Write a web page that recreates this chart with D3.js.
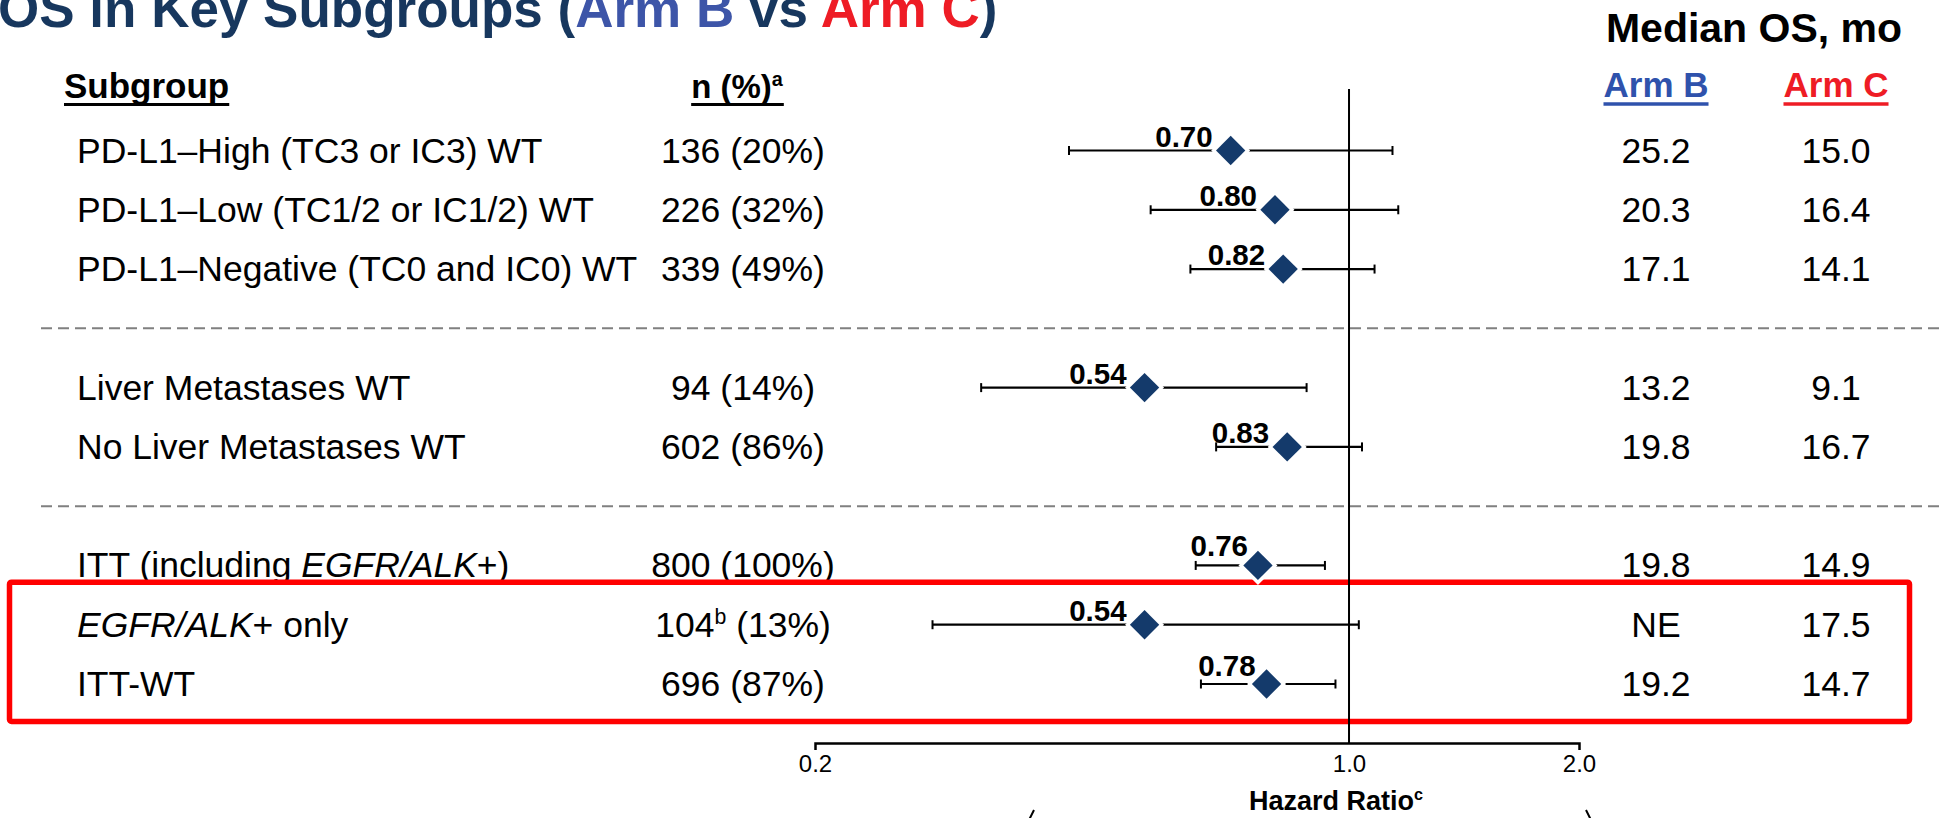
<!DOCTYPE html>
<html>
<head>
<meta charset="utf-8">
<script src="https://cdn.jsdelivr.net/npm/d3@7"></script>
<style>
  html, body { margin: 0; padding: 0; background: #fff; overflow: hidden; }
  svg text { font-family: "Liberation Sans", Arial, Helvetica, sans-serif; }
</style>
</head>
<body>
<svg id="chart" width="1939" height="818"></svg>
<script>
// ---- Data -------------------------------------------------------------
const subgroups = [
  "PD-L1–High (TC3 or IC3) WT",
  "PD-L1–Low (TC1/2 or IC1/2) WT",
  "PD-L1–Negative (TC0 and IC0) WT",
  "Liver Metastases WT",
  "No Liver Metastases WT",
  "ITT (including <i>EGFR/ALK</i>+)",
  "<i>EGFR/ALK</i>+ only",
  "ITT-WT"
];
const nPercent = [
  "136 (20%)", "226 (32%)", "339 (49%)", "94 (14%)", "602 (86%)",
  "800 (100%)", "104<sup>b</sup> (13%)", "696 (87%)"
];
const hazardRatios = [0.70, 0.80, 0.82, 0.54, 0.83, 0.76, 0.54, 0.78];
const ciLower      = [0.43, 0.55, 0.62, 0.33, 0.67, 0.63, 0.285, 0.64];
const ciUpper      = [1.14, 1.16, 1.08, 0.88, 1.04, 0.93, 1.03, 0.96];
const medianArmB = ["25.2", "20.3", "17.1", "13.2", "19.8", "19.8", "NE", "19.2"];
const medianArmC = ["15.0", "16.4", "14.1", "9.1", "16.7", "14.9", "17.5", "14.7"];
// row slot of each subgroup; slots 3 and 6 hold the dashed separators
const rowSlots = [0, 1, 2, 4, 5, 7, 8, 9];
const separatorSlots = [3, 6];
const highlightedRows = [6, 7];
const axisTicks = [0.2, 1.0, 2.0];

// ---- Layout -----------------------------------------------------------
const W = 1939, H = 818;
const NAVY = "#17375E", BLUE_B = "#2F52AC", RED_C = "#EE1C25";
const FONT = '"Liberation Sans", Arial, Helvetica, sans-serif';
// extra shift [dx, dy] for the value label of crowded rows
const labelNudge = [[0, 0], [0, 0], [0, 0], [0, 0], [0, 0], [8, -5], [0, 0], [7, -4]];
const svg = d3.select("#chart");

const x = d3.scaleLog().domain([0.2, 2]).range([815, 1579]);
const y = d3.scaleLinear().domain([0, 9]).range([150.5, 684]);
const axisY = 743;

// tiny markup parser: <i>..</i> italic, <sup>..</sup> superscript
function parseParts(str) {
  const parts = [];
  const re = /<(i|sup)>(.*?)<\/\1>/g;
  let last = 0, m;
  while ((m = re.exec(str)) !== null) {
    if (m.index > last) parts.push({ t: str.slice(last, m.index) });
    parts.push({ t: m[2], i: m[1] === "i", sup: m[1] === "sup" });
    last = re.lastIndex;
  }
  if (last < str.length) parts.push({ t: str.slice(last) });
  return parts;
}
function richText(textSel, str, size) {
  let shift = 0;
  parseParts(str).forEach(p => {
    const ts = textSel.append("tspan").text(p.t);
    if (p.i) ts.attr("font-style", "italic");
    if (p.sup) {
      ts.attr("font-size", size * 0.6).attr("dy", -size * 0.36);
      shift = size * 0.36;
    } else if (shift) {
      ts.attr("dy", shift);
      shift = 0;
    }
  });
  return textSel;
}
function underline(textSel, color, offset, width) {
  const b = textSel.node().getBBox();
  const baseY = +textSel.attr("y");
  svg.append("line")
    .attr("x1", b.x).attr("x2", b.x + b.width)
    .attr("y1", baseY + offset).attr("y2", baseY + offset)
    .attr("stroke", color).attr("stroke-width", width);
}

// ---- Title ------------------------------------------------------------
const title = svg.append("text")
  .attr("x", -2).attr("y", 27)
  .attr("font-size", 53).attr("font-weight", "bold").attr("fill", NAVY);
title.append("tspan").text("OS in Key Subgroups (");
title.append("tspan").attr("fill", "#3D55A8").text("Arm B");
title.append("tspan").text(" vs ");
title.append("tspan").attr("fill", RED_C).text("Arm C");
title.append("tspan").text(")");

// ---- Separators -------------------------------------------------------
svg.selectAll("line.sep").data(separatorSlots).join("line")
  .attr("class", "sep")
  .attr("x1", 41).attr("x2", W)
  .attr("y1", d => y(d)).attr("y2", d => y(d))
  .attr("stroke", "#808080").attr("stroke-width", 2)
  .attr("stroke-dasharray", "11,6");

// ---- Column headers ---------------------------------------------------
const hdrSize = 35;
const hSub = svg.append("text").attr("x", 64).attr("y", 98)
  .attr("font-size", hdrSize).attr("font-weight", "bold").text("Subgroup");
underline(hSub, "#000", 6.5, 3);

const hN = svg.append("text").attr("x", 737).attr("y", 98)
  .attr("text-anchor", "middle")
  .attr("font-size", 33).attr("font-weight", "bold");
richText(hN, "n (%)<sup>a</sup>", 33);
underline(hN, "#000", 6.5, 3);

svg.append("text").attr("x", 1754).attr("y", 42)
  .attr("text-anchor", "middle")
  .attr("font-size", 41).attr("font-weight", "bold").text("Median OS, mo");

const hB = svg.append("text").attr("x", 1656).attr("y", 97)
  .attr("text-anchor", "middle").attr("fill", BLUE_B)
  .attr("font-size", hdrSize).attr("font-weight", "bold").text("Arm B");
underline(hB, BLUE_B, 7, 3.5);
const hC = svg.append("text").attr("x", 1836).attr("y", 97)
  .attr("text-anchor", "middle").attr("fill", RED_C)
  .attr("font-size", hdrSize).attr("font-weight", "bold").text("Arm C");
underline(hC, RED_C, 7, 3.5);

// ---- Axis -------------------------------------------------------------
const axis = d3.axisBottom(x)
  .tickValues(axisTicks)
  .tickFormat(d3.format(".1f"))
  .tickSizeInner(0).tickSizeOuter(7).tickPadding(12);
const gAxis = svg.append("g")
  .attr("transform", `translate(0,${axisY})`)
  .call(axis)
  .attr("font-size", 24)
  .attr("font-family", FONT);
gAxis.select(".domain").attr("stroke", "#000").attr("stroke-width", 2.5);
gAxis.selectAll(".tick line").remove();
gAxis.selectAll(".tick text").attr("fill", "#000");

const hr = svg.append("text").attr("x", 1336).attr("y", 810)
  .attr("text-anchor", "middle")
  .attr("font-size", 27).attr("font-weight", "bold");
richText(hr, "Hazard Ratio<sup>c</sup>", 27);

// arrow heads running off the bottom edge
svg.append("path").attr("d", "M1034,810 L1024,830 L1034,850")
  .attr("fill", "none").attr("stroke", "#000").attr("stroke-width", 2);
svg.append("path").attr("d", "M1586,810 L1596,830 L1586,850")
  .attr("fill", "none").attr("stroke", "#000").attr("stroke-width", 2);

// ---- Forest plot rows -------------------------------------------------
const rows = subgroups.map((s, i) => ({
  label: s, n: nPercent[i], hr: hazardRatios[i], lo: ciLower[i], hi: ciUpper[i],
  b: medianArmB[i], c: medianArmC[i], yy: y(rowSlots[i]), nudge: labelNudge[i]
}));

// text columns
const bodySize = 35.5;
rows.forEach(d => {
  richText(svg.append("text").attr("x", 77).attr("y", d.yy + 12).attr("font-size", bodySize), d.label, bodySize);
  richText(svg.append("text").attr("x", 743).attr("y", d.yy + 12).attr("text-anchor", "middle").attr("font-size", bodySize), d.n, bodySize);
  svg.append("text").attr("x", 1656).attr("y", d.yy + 12).attr("text-anchor", "middle").attr("font-size", bodySize).text(d.b);
  svg.append("text").attr("x", 1836).attr("y", d.yy + 12).attr("text-anchor", "middle").attr("font-size", bodySize).text(d.c);
});

// highlight box round the last two subgroups
const boxTop = rows[highlightedRows[0]].yy - 42.5;
const boxBottom = rows[highlightedRows[1]].yy + 37.5;
svg.append("rect")
  .attr("x", 9.5).attr("y", boxTop)
  .attr("width", 1900).attr("height", boxBottom - boxTop)
  .attr("rx", 2)
  .attr("fill", "none").attr("stroke", "#FF0000").attr("stroke-width", 5.5);

// reference line at HR = 1
svg.append("line")
  .attr("x1", x(1)).attr("x2", x(1))
  .attr("y1", 89).attr("y2", axisY)
  .attr("stroke", "#000").attr("stroke-width", 2);

const g = svg.append("g");
const capH = 4.5;
g.selectAll("line.ci").data(rows).join("line")
  .attr("class", "ci")
  .attr("x1", d => x(d.lo)).attr("x2", d => x(d.hi))
  .attr("y1", d => d.yy).attr("y2", d => d.yy)
  .attr("stroke", "#000").attr("stroke-width", 2.2);
g.selectAll("line.capL").data(rows).join("line")
  .attr("class", "capL")
  .attr("x1", d => x(d.lo)).attr("x2", d => x(d.lo))
  .attr("y1", d => d.yy - capH).attr("y2", d => d.yy + capH)
  .attr("stroke", "#000").attr("stroke-width", 2);
g.selectAll("line.capR").data(rows).join("line")
  .attr("class", "capR")
  .attr("x1", d => x(d.hi)).attr("x2", d => x(d.hi))
  .attr("y1", d => d.yy - capH).attr("y2", d => d.yy + capH)
  .attr("stroke", "#000").attr("stroke-width", 2);

// white halo then navy diamond
const halo = d3.symbol().type(d3.symbolSquare).size(760);
const diamond = d3.symbol().type(d3.symbolSquare).size(430);
g.selectAll("path.halo").data(rows).join("path")
  .attr("class", "halo")
  .attr("d", halo())
  .attr("transform", d => `translate(${x(d.hr)},${d.yy}) rotate(45)`)
  .attr("fill", "#fff");
g.selectAll("path.dia").data(rows).join("path")
  .attr("class", "dia")
  .attr("d", diamond())
  .attr("transform", d => `translate(${x(d.hr)},${d.yy}) rotate(45)`)
  .attr("fill", "#143A6B");

g.selectAll("text.hrv").data(rows).join("text")
  .attr("class", "hrv")
  .attr("x", d => x(d.hr) - 18 + d.nudge[0]).attr("y", d => d.yy - 4 + d.nudge[1])
  .attr("text-anchor", "end")
  .attr("font-size", 29.5).attr("font-weight", "bold")
  .text(d => d3.format(".2f")(d.hr));
</script>
</body>
</html>
